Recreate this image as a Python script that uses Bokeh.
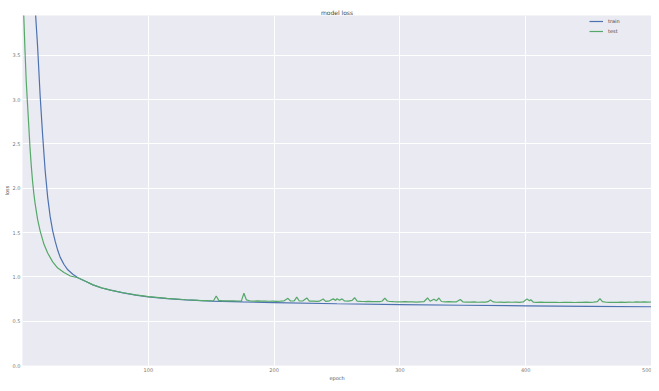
from bokeh.plotting import figure
from bokeh.models import Range1d, FixedTicker, NumeralTickFormatter, Legend, LegendItem
from bokeh.embed import file_html
from bokeh.resources import INLINE

# ---- data ----
train_epochs = [0, 2, 4, 6, 8, 10, 12, 14, 16, 18, 20, 22, 24, 26, 28, 30, 33, 36, 40, 44,
                50, 56, 63, 70, 80, 90, 100, 115, 130, 150, 175, 200, 250, 300, 350, 400, 450, 500]
train_loss = [9.5, 7.5, 6.2, 5.2, 4.5, 4.05, 3.6, 3.05, 2.6, 2.2, 1.9, 1.68, 1.52, 1.4, 1.3, 1.22,
              1.14, 1.08, 1.03, 0.99, 0.95, 0.91, 0.875, 0.85, 0.82, 0.795, 0.775, 0.755, 0.74,
              0.727, 0.717, 0.71, 0.697, 0.688, 0.68, 0.674, 0.668, 0.663]

test_epochs = [0, 1, 2, 3, 4, 5, 6, 7, 8, 9, 10, 12, 14, 17, 20, 24, 28, 33, 38, 44,
               50, 56, 63, 70, 80, 90, 100, 115, 130, 140,
               143, 146, 149, 152, 154, 156, 159, 162, 165, 168, 171, 174, 176, 178, 181, 184,
               187, 190, 193, 196, 199, 202, 205, 208, 211, 213, 216, 218, 220, 223, 226, 228,
               231, 234, 236, 239, 241, 244, 247, 249, 250, 252, 254, 256, 259, 262, 264, 266,
               269, 272, 275, 278, 281, 284, 286, 288, 290, 292, 295, 298, 301, 304, 307, 310,
               313, 316, 319, 322, 324, 327, 329, 331, 333, 336, 339, 342, 345, 348, 350, 353,
               356, 359, 362, 365, 368, 370, 372, 374, 377, 380, 383, 386, 389, 392, 395, 398,
               401, 403, 404, 406, 409, 412, 415, 418, 421, 424, 427, 430, 433, 436, 439, 442,
               445, 448, 451, 454, 457, 459, 461, 464, 467, 470, 473, 476, 479, 482, 485, 488,
               491, 494, 497, 500]
test_loss = [4.4, 3.95, 3.55, 3.2, 2.95, 2.7, 2.45, 2.25, 2.08, 1.94, 1.83, 1.65, 1.52, 1.37,
             1.27, 1.17, 1.1, 1.05, 1.01, 0.99,
             0.95, 0.91, 0.876, 0.851, 0.821, 0.797, 0.777, 0.757, 0.742, 0.735,
             0.733, 0.732, 0.731, 0.733, 0.785, 0.735, 0.73, 0.731, 0.729, 0.73, 0.728, 0.73,
             0.815, 0.74, 0.728, 0.727, 0.729, 0.726, 0.727, 0.725, 0.727, 0.724, 0.726, 0.73,
             0.758, 0.728, 0.73, 0.772, 0.728, 0.73, 0.762, 0.726, 0.727, 0.724, 0.726, 0.75,
             0.724, 0.73, 0.752, 0.735, 0.754, 0.736, 0.752, 0.728, 0.726, 0.735, 0.765, 0.727,
             0.724, 0.722, 0.723, 0.72, 0.722, 0.72, 0.728, 0.76, 0.728, 0.722, 0.72, 0.719,
             0.718, 0.72, 0.717, 0.719, 0.716, 0.718, 0.72, 0.762, 0.725, 0.748, 0.73, 0.762,
             0.722, 0.718, 0.72, 0.717, 0.719, 0.745, 0.719, 0.716, 0.715, 0.717, 0.714, 0.716,
             0.715, 0.72, 0.738, 0.718, 0.714, 0.715, 0.713, 0.715, 0.714, 0.716, 0.713, 0.717,
             0.752, 0.73, 0.742, 0.716, 0.713, 0.715, 0.712, 0.714, 0.712, 0.714, 0.711, 0.713,
             0.712, 0.714, 0.711, 0.713, 0.712, 0.715, 0.713, 0.716, 0.72, 0.756, 0.72, 0.714,
             0.712, 0.714, 0.713, 0.715, 0.713, 0.716, 0.714, 0.718, 0.716, 0.719, 0.715, 0.717]

x_ticks = [100, 200, 300, 400, 500]
y_ticks = [0.0, 0.5, 1.0, 1.5, 2.0, 2.5, 3.0, 3.5]

FONT = "DejaVu Sans"
TICK_COLOR = "#777777"

p = figure(width=651, height=383, output_backend="svg", toolbar_location=None,
           x_range=Range1d(0, 500), y_range=Range1d(0, 3.95),
           title="model loss", min_border_left=0, min_border_right=0,
           min_border_top=15, min_border_bottom=0)

p.background_fill_color = "#EAEAF2"
p.border_fill_color = "white"
p.outline_line_color = None

p.title.align = "center"
p.title.text_font = FONT
p.title.text_font_size = "6px"
p.title.text_font_style = "normal"
p.title.text_color = "#444444"
p.title.standoff = 0

for ax in (p.xaxis[0], p.yaxis[0]):
    ax.axis_line_color = None
    ax.major_tick_line_color = None
    ax.minor_tick_line_color = None
    ax.major_tick_out = 0
    ax.major_tick_in = 0
    ax.minor_tick_out = 0
    ax.minor_tick_in = 0
    ax.major_label_text_font = FONT
    ax.major_label_text_font_size = "5px"
    ax.major_label_text_color = TICK_COLOR
    ax.axis_label_text_font = FONT
    ax.axis_label_text_font_size = "5px"
    ax.axis_label_text_font_style = "normal"
    ax.axis_label_text_color = "#555555"
    ax.major_label_standoff = 2
    ax.axis_label_standoff = 0

p.xaxis.axis_label = "epoch"
p.yaxis.axis_label = "loss"
p.xaxis.ticker = FixedTicker(ticks=x_ticks)
p.yaxis.ticker = FixedTicker(ticks=y_ticks)
p.xaxis.formatter = NumeralTickFormatter(format="0")
p.yaxis.formatter = NumeralTickFormatter(format="0.0")

p.xgrid.grid_line_color = "white"
p.ygrid.grid_line_color = "white"
p.xgrid.grid_line_width = 1
p.ygrid.grid_line_width = 1

r_train = p.line(train_epochs, train_loss, line_color="#4C72B0", line_width=1.2)
r_test = p.line(test_epochs, test_loss, line_color="#55A868", line_width=1.2)

legend = Legend(items=[LegendItem(label="train", renderers=[r_train]),
                       LegendItem(label="test", renderers=[r_test])],
                location=(567, 330))
legend.background_fill_alpha = 0
legend.border_line_color = None
legend.label_text_font = FONT
legend.label_text_font_size = "5px"
legend.label_text_color = "#444444"
legend.glyph_width = 14
legend.glyph_height = 8
legend.label_height = 8
legend.spacing = 2
legend.padding = 1
legend.margin = 0
p.add_layout(legend)

open("out.html", "w").write(file_html(p, INLINE))
